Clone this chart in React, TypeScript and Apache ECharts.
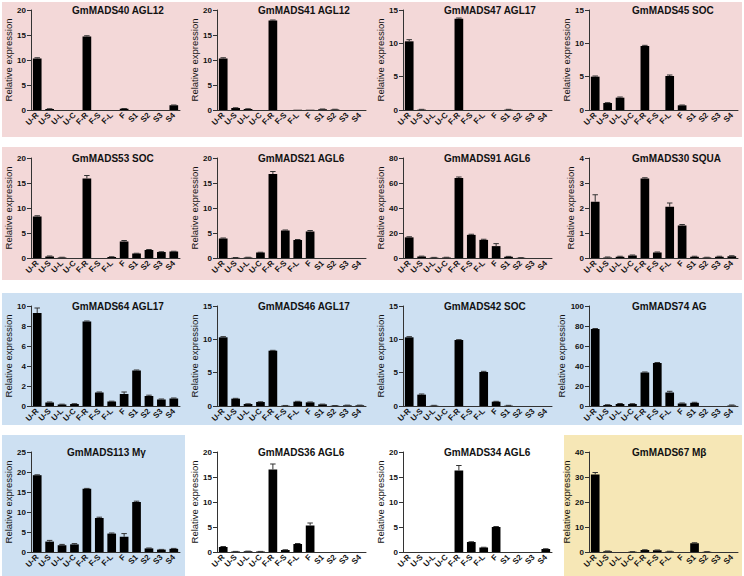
import React, { useEffect, useRef } from "react";
import * as echarts from "echarts";

const categories = ["U-R", "U-S", "U-L", "U-C", "F-R", "F-S", "F-L", "F", "S1", "S2", "S3", "S4"];

const titles = [
  "GmMADS40 AGL12", "GmMADS41 AGL12", "GmMADS47 AGL17", "GmMADS45 SOC",
  "GmMADS53 SOC", "GmMADS21 AGL6", "GmMADS91 AGL6", "GmMADS30 SQUA",
  "GmMADS64 AGL17", "GmMADS46 AGL17", "GmMADS42 SOC", "GmMADS74 AG",
  "GmMADS113 Mγ", "GmMADS36 AGL6", "GmMADS34 AGL6", "GmMADS67 Mβ",
];

const yMax = [20, 20, 15, 15, 20, 20, 80, 4, 10, 15, 15, 100, 25, 20, 20, 40];
const yInterval = [5, 5, 5, 5, 5, 5, 20, 1, 2, 5, 5, 20, 5, 5, 5, 10];

const gm40 = [10.3, 0.2, 0, 0, 14.7, 0, 0, 0.25, 0, 0, 0, 0.95];
const gm41 = [10.3, 0.4, 0.2, 0, 17.9, 0, 0.05, 0.05, 0.15, 0.1, 0, 0];
const gm47 = [10.3, 0.05, 0, 0, 13.7, 0, 0, 0, 0.05, 0, 0, 0];
const gm45 = [5.0, 1.05, 1.85, 0, 9.6, 0, 5.1, 0.7, 0, 0, 0, 0];
const gm53 = [8.3, 0.3, 0.1, 0, 15.9, 0, 0.2, 3.3, 0.9, 1.6, 1.2, 1.3];
const gm21 = [3.9, 0.05, 0.1, 1.1, 16.8, 5.5, 3.6, 5.3, 0, 0, 0, 0];
const gm91 = [16.5, 1.2, 0.3, 0.4, 64, 18.5, 14.5, 9.5, 1, 0.2, 0, 0];
const gm30 = [2.25, 0.02, 0.05, 0.1, 3.18, 0.22, 2.05, 1.3, 0.05, 0.02, 0.05, 0.07];
const gm64 = [9.3, 0.35, 0.15, 0.2, 8.45, 1.35, 0.45, 1.2, 3.55, 1.0, 0.65, 0.75];
const gm46 = [10.3, 1.1, 0.3, 0.6, 8.3, 0.05, 0.65, 0.55, 0.25, 0.05, 0.1, 0.1];
const gm42 = [10.3, 1.7, 0.05, 0, 9.9, 0, 5.1, 0.65, 0.05, 0, 0, 0];
const gm74 = [77, 1, 2, 2, 33.5, 43, 13.5, 2.5, 3.2, 0, 0, 0.5];
const gm113 = [19.2, 2.6, 1.7, 1.9, 15.8, 8.5, 4.6, 3.8, 12.5, 0.9, 0.6, 0.8];
const gm36 = [1.0, 0.1, 0.15, 0.1, 16.5, 0.4, 1.6, 5.3, 0, 0, 0, 0];
const gm34 = [0, 0, 0, 0, 16.3, 2.0, 0.9, 5.0, 0, 0, 0, 0.6];
const gm67 = [31, 0.3, 0, 0.1, 0.8, 0.7, 0.2, 0, 3.5, 0.1, 0, 0];

const err40 = [0.15, 0.05, 0, 0, 0.15, 0, 0, 0.05, 0, 0, 0, 0.05];
const err41 = [0.15, 0.05, 0.05, 0, 0.1, 0, 0, 0, 0.05, 0.05, 0, 0];
const err47 = [0.25, 0.05, 0, 0, 0.1, 0, 0, 0, 0.05, 0, 0, 0];
const err45 = [0.1, 0.05, 0.1, 0, 0.1, 0, 0.15, 0.05, 0, 0, 0, 0];
const err53 = [0.15, 0.1, 0.05, 0, 0.6, 0, 0.05, 0.2, 0.05, 0.1, 0.05, 0.05];
const err21 = [0.1, 0.05, 0.05, 0.05, 0.5, 0.1, 0.1, 0.2, 0, 0, 0, 0];
const err91 = [0.5, 0.3, 0.2, 0.2, 0.8, 0.5, 0.5, 2, 0.3, 0.1, 0, 0];
const err30 = [0.28, 0.02, 0.02, 0.02, 0.03, 0.02, 0.15, 0.04, 0.02, 0.01, 0.02, 0.02];
const err64 = [0.5, 0.05, 0.03, 0.03, 0.05, 0.05, 0.03, 0.2, 0.05, 0.08, 0.05, 0.05];
const err46 = [0.1, 0.05, 0.03, 0.03, 0.05, 0.03, 0.05, 0.05, 0.03, 0.02, 0.03, 0.03];
const err42 = [0.1, 0.1, 0.05, 0, 0.05, 0, 0.1, 0.05, 0.05, 0, 0, 0];
const err74 = [0.5, 0.3, 0.5, 0.3, 0.5, 0.5, 1.2, 0.5, 0.5, 0, 0, 0.5];
const err113 = [0.1, 0.3, 0.2, 0.2, 0.1, 0.2, 0.15, 0.8, 0.2, 0.1, 0.05, 0.1];
const err36 = [0.1, 0.02, 0.02, 0.02, 1.1, 0.05, 0.1, 0.5, 0, 0, 0, 0];
const err34 = [0, 0, 0, 0, 1.0, 0.05, 0.05, 0.1, 0, 0, 0, 0.05];
const err67 = [0.8, 0.1, 0, 0.05, 0.1, 0.1, 0.1, 0, 0.2, 0.05, 0, 0];

const values = [gm40, gm41, gm47, gm45, gm53, gm21, gm91, gm30, gm64, gm46, gm42, gm74, gm113, gm36, gm34, gm67];
const errors = [err40, err41, err47, err45, err53, err21, err91, err30, err64, err46, err42, err74, err113, err36, err34, err67];

const PINK = "#f3d8d8";
const BLUE = "#cde0f2";
const YELLOW = "#f6e7b6";
const FONT = "'Liberation Sans', Arial, sans-serif";

const rowTop = [10, 158, 306, 452];
const colLeft = [31, 217, 403, 589];
const titleLeft = [72, 258, 444, 632];

export default function App() {
  const ref = useRef<HTMLDivElement>(null);
  useEffect(() => {
    document.body.style.margin = "0";
    if (!ref.current) return;
    const chart = echarts.init(ref.current, null, { renderer: "svg" });

    const grids: any[] = [];
    const xAxes: any[] = [];
    const yAxes: any[] = [];
    const series: any[] = [];
    const title: any[] = [];

    for (let i = 0; i < 16; i++) {
      const r = Math.floor(i / 4);
      const c = i % 4;
      grids.push({ left: colLeft[c], top: rowTop[r], width: 149, height: 100 });
      xAxes.push({
        type: "category",
        gridIndex: i,
        data: categories,
        boundaryGap: true,
        axisLine: { lineStyle: { color: "#333", width: 1 } },
        axisTick: { alignWithLabel: true, length: 3, lineStyle: { color: "#333" } },
        axisLabel: {
          rotate: 45,
          interval: 0,
          margin: 4,
          fontSize: 8,
          fontWeight: "bold",
          color: "#111",
          fontFamily: FONT,
        },
      });
      yAxes.push({
        type: "value",
        gridIndex: i,
        min: 0,
        max: yMax[i],
        interval: yInterval[i],
        name: "Relative expression",
        nameLocation: "middle",
        nameGap: 14,
        nameTextStyle: { fontSize: 9.5, color: "#111", fontFamily: FONT },
        axisLine: { show: true, lineStyle: { color: "#333", width: 1 } },
        axisTick: { show: true, length: 4, lineStyle: { color: "#333" } },
        axisLabel: { fontSize: 8, fontWeight: "bold", color: "#111", margin: 5, fontFamily: FONT },
        splitLine: { show: false },
      });
      series.push({
        type: "bar",
        xAxisIndex: i,
        yAxisIndex: i,
        data: values[i],
        barWidth: "70%",
        itemStyle: { color: "#000" },
      });
      series.push({
        type: "custom",
        xAxisIndex: i,
        yAxisIndex: i,
        z: 3,
        data: values[i].map((v, k) => [k, v, errors[i][k]]),
        encode: { x: 0, y: 1 },
        renderItem: (params: any, api: any) => {
          const idx = api.value(0);
          const val = api.value(1);
          const e = api.value(2);
          if (!e) return { type: "group", children: [] };
          const base = api.coord([idx, val]);
          const top = api.coord([idx, val + e]);
          const bw = api.size([1, 0])[0];
          const half = bw * 0.22;
          return {
            type: "group",
            children: [
              { type: "line", shape: { x1: base[0], y1: base[1], x2: base[0], y2: top[1] }, style: { stroke: "#333", lineWidth: 1 } },
              { type: "line", shape: { x1: base[0] - half, y1: top[1], x2: base[0] + half, y2: top[1] }, style: { stroke: "#333", lineWidth: 1 } },
            ],
          };
        },
      });
      title.push({
        text: titles[i],
        left: i === 12 ? 67 : titleLeft[c],
        top: rowTop[r] - 5,
        padding: 0,
        textStyle: { fontSize: 10, fontWeight: "bold", color: "#111", fontFamily: FONT },
      });
    }

    const bg = [
      { type: "rect", z: -10, silent: true, shape: { x: 2, y: 2, width: 740, height: 135 }, style: { fill: PINK } },
      { type: "rect", z: -10, silent: true, shape: { x: 2, y: 147, width: 740, height: 133 }, style: { fill: PINK } },
      { type: "rect", z: -10, silent: true, shape: { x: 2, y: 293, width: 740, height: 132 }, style: { fill: BLUE } },
      { type: "rect", z: -10, silent: true, shape: { x: 2, y: 435, width: 183, height: 141 }, style: { fill: BLUE } },
      { type: "rect", z: -10, silent: true, shape: { x: 564, y: 435, width: 178, height: 141 }, style: { fill: YELLOW } },
    ];

    chart.setOption({
      animation: false,
      backgroundColor: "#fff",
      title,
      grid: grids,
      xAxis: xAxes,
      yAxis: yAxes,
      series,
      graphic: { elements: bg },
    });
    return () => chart.dispose();
  }, []);
  return <div ref={ref} style={{ width: 744, height: 576 }} />;
}
